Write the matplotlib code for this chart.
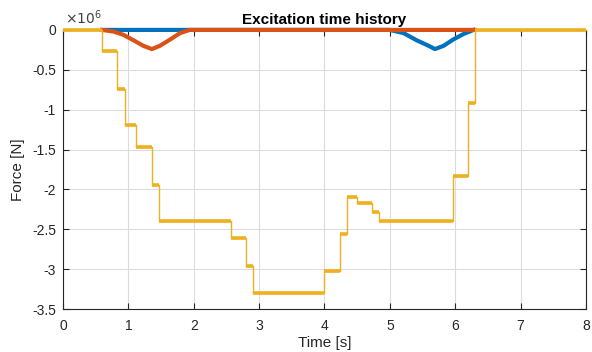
import numpy as np
import matplotlib
matplotlib.use("Agg")
import matplotlib.pyplot as plt
from matplotlib.ticker import FuncFormatter

plt.rcParams['font.family'] = ['Liberation Sans', 'DejaVu Sans']
plt.rcParams['axes.unicode_minus'] = False

# excitation 1 (blue): zero, then a dip near t = 5..6.3 s
t_blue = [0.6, 5.0, 5.21, 5.41, 5.57, 5.69, 5.82, 5.97, 6.13, 6.28]
f_blue = [0, 0, -0.04e6, -0.13e6, -0.19e6, -0.24e6, -0.20e6, -0.12e6, -0.05e6, 0]

# excitation 2 (red): dip near t = 0.6..1.95 s, then zero
t_red = [0.6, 0.77, 0.92, 1.08, 1.23, 1.36, 1.48, 1.64, 1.79, 1.94, 6.3]
f_red = [0, -0.02e6, -0.06e6, -0.13e6, -0.20e6, -0.24e6, -0.20e6, -0.12e6, -0.04e6, 0, 0]

# excitation 3 (yellow): piecewise constant steps
t_edges = [0, 0.6, 0.83, 0.95, 1.12, 1.36, 1.47, 2.57, 2.80, 2.91, 4.0,
           4.24, 4.35, 4.49, 4.72, 4.83, 5.97, 6.20, 6.30, 8.0]
levels = [0, -0.27, -0.735, -1.195, -1.47, -1.94, -2.40, -2.61, -2.96, -3.30,
          -3.02, -2.56, -2.09, -2.17, -2.285, -2.40, -1.83, -0.92, 0]
f_steps = np.array(levels) * 1e6

blue = '#0072BD'
red = '#D95319'
yellow = '#EDB120'

fig = plt.figure(figsize=(5.92, 3.52), dpi=100)
ax = fig.add_axes([0.1064, 0.122, 0.8834, 0.793])

ax.plot(t_blue, f_blue, color=blue, lw=3, clip_on=False, zorder=3)
ax.plot(t_red, f_red, color=red, lw=3, clip_on=False, zorder=4)

# thin step line plus thicker flat parts
ax.step(t_edges, np.append(f_steps, f_steps[-1]), where='post', color=yellow, lw=1, zorder=5, clip_on=False)
ax.hlines(f_steps, t_edges[:-1], t_edges[1:], color=yellow, lw=2.6, zorder=5, clip_on=False)

ax.set_xlim(0, 8)
ax.set_ylim(-3.5e6, 0)
ax.set_xticks(range(0, 9))
ax.set_yticks(np.arange(-3.5e6, 1, 0.5e6))
ax.yaxis.set_major_formatter(FuncFormatter(lambda v, p: f'{v / 1e6:g}'))

ax.grid(True, color='#DCDCDC', lw=0.8)
ax.set_axisbelow(True)
for s in ax.spines.values():
    s.set_color('#262626')
    s.set_linewidth(0.8)
ax.tick_params(direction='in', length=4, width=0.8, color='#262626',
               top=True, right=True, labelsize=10, labelcolor='#262626')
ax.tick_params(axis='x', pad=7)
ax.tick_params(axis='y', pad=5)

ax.set_xlabel('Time [s]', fontsize=11, color='#262626', labelpad=2)
ax.set_ylabel('Force [N]', fontsize=11, color='#262626', labelpad=5)
ax.set_title('Excitation time history', fontsize=11, fontweight='bold', pad=4)
ax.text(0.003, 1.012, r'$\times10^6$', transform=ax.transAxes, fontsize=10,
        color='#404040', va='bottom', ha='left')

fig.savefig('out.png', dpi=100)
